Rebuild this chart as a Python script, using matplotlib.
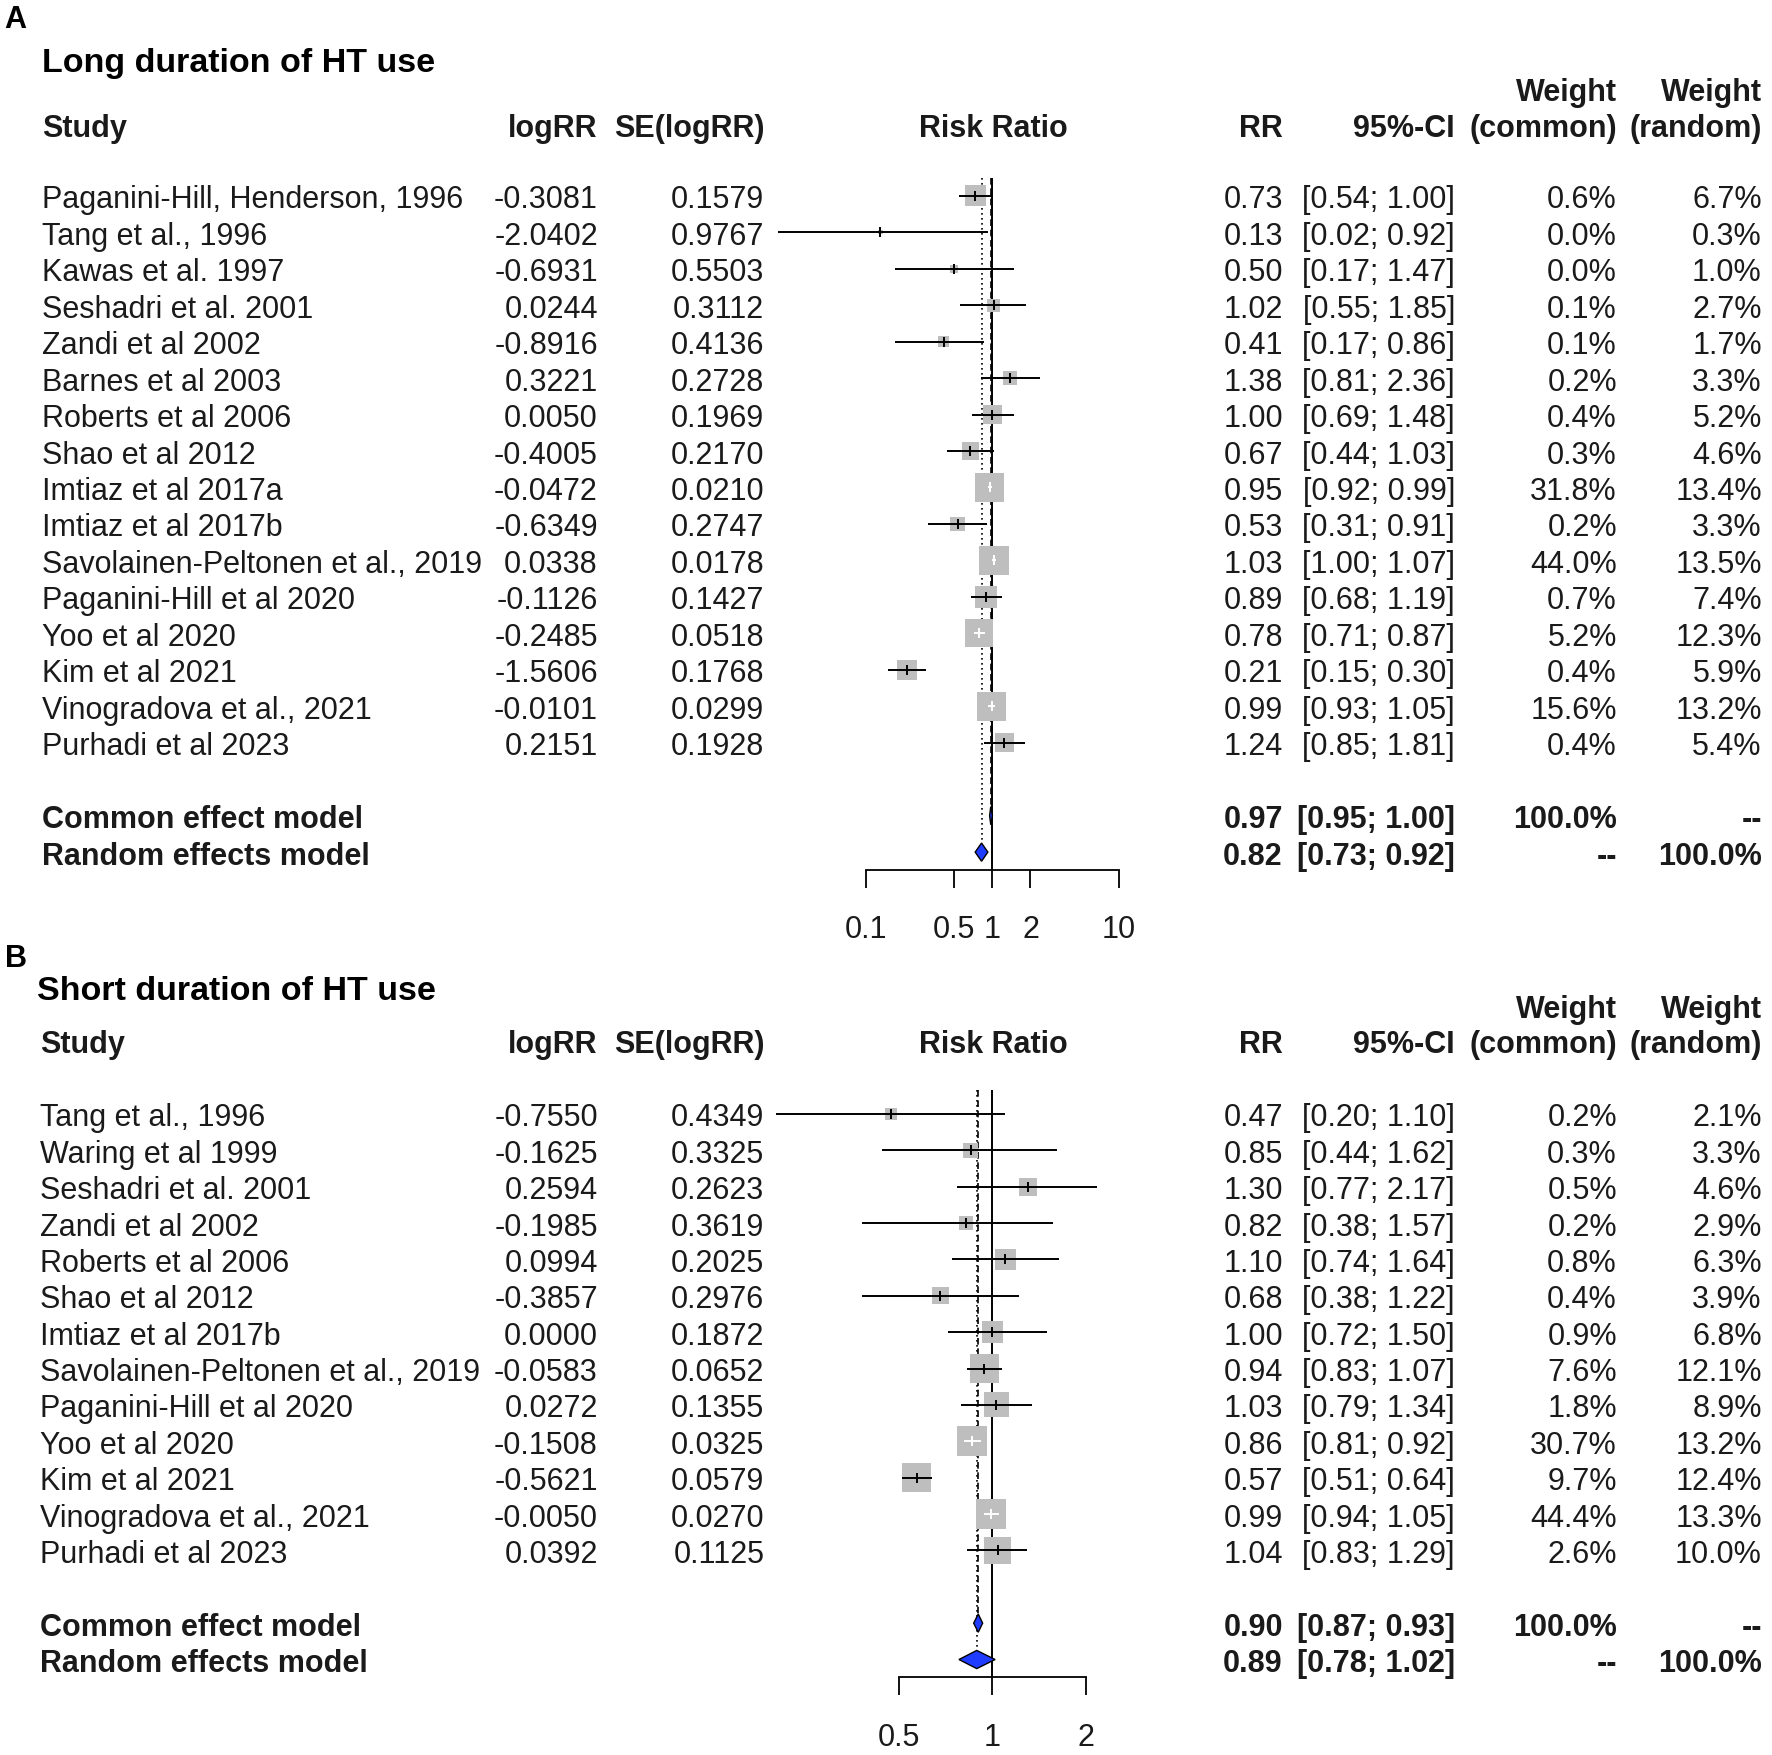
import numpy as np
import matplotlib
matplotlib.use("Agg")
import matplotlib.pyplot as plt

plt.rcParams['font.family'] = ['Liberation Sans', 'DejaVu Sans']

# ---------------- data: panel A (long duration) ----------------
names_A = ["Paganini-Hill, Henderson, 1996", "Tang et al., 1996", "Kawas et al. 1997",
           "Seshadri et al. 2001", "Zandi et al 2002", "Barnes et al 2003",
           "Roberts et al 2006", "Shao et al 2012", "Imtiaz et al 2017a",
           "Imtiaz et al 2017b", "Savolainen-Peltonen et al., 2019",
           "Paganini-Hill et al 2020", "Yoo et al 2020", "Kim et al 2021",
           "Vinogradova et al., 2021", "Purhadi et al 2023"]
logrr_A = [-0.3081, -2.0402, -0.6931, 0.0244, -0.8916, 0.3221, 0.0050, -0.4005,
           -0.0472, -0.6349, 0.0338, -0.1126, -0.2485, -1.5606, -0.0101, 0.2151]
se_A = [0.1579, 0.9767, 0.5503, 0.3112, 0.4136, 0.2728, 0.1969, 0.2170,
        0.0210, 0.2747, 0.0178, 0.1427, 0.0518, 0.1768, 0.0299, 0.1928]
rr_A = [0.73, 0.13, 0.50, 1.02, 0.41, 1.38, 1.00, 0.67, 0.95, 0.53, 1.03, 0.89,
        0.78, 0.21, 0.99, 1.24]
lo_A = [0.54, 0.02, 0.17, 0.55, 0.17, 0.81, 0.69, 0.44, 0.92, 0.31, 1.00, 0.68,
        0.71, 0.15, 0.93, 0.85]
hi_A = [1.00, 0.92, 1.47, 1.85, 0.86, 2.36, 1.48, 1.03, 0.99, 0.91, 1.07, 1.19,
        0.87, 0.30, 1.05, 1.81]
wc_A = [0.6, 0.0, 0.0, 0.1, 0.1, 0.2, 0.4, 0.3, 31.8, 0.2, 44.0, 0.7, 5.2, 0.4, 15.6, 0.4]
wr_A = [6.7, 0.3, 1.0, 2.7, 1.7, 3.3, 5.2, 4.6, 13.4, 3.3, 13.5, 7.4, 12.3, 5.9, 13.2, 5.4]
common_A = (0.97, 0.95, 1.00)
random_A = (0.82, 0.73, 0.92)
ticks_A = [0.1, 0.5, 1, 2, 10]
ticklabels_A = ["0.1", "0.5", "1", "2", "10"]

# ---------------- data: panel B (short duration) ----------------
names_B = ["Tang et al., 1996", "Waring et al 1999", "Seshadri et al. 2001",
           "Zandi et al 2002", "Roberts et al 2006", "Shao et al 2012",
           "Imtiaz et al 2017b", "Savolainen-Peltonen et al., 2019",
           "Paganini-Hill et al 2020", "Yoo et al 2020", "Kim et al 2021",
           "Vinogradova et al., 2021", "Purhadi et al 2023"]
logrr_B = [-0.7550, -0.1625, 0.2594, -0.1985, 0.0994, -0.3857, 0.0000, -0.0583,
           0.0272, -0.1508, -0.5621, -0.0050, 0.0392]
se_B = [0.4349, 0.3325, 0.2623, 0.3619, 0.2025, 0.2976, 0.1872, 0.0652, 0.1355,
        0.0325, 0.0579, 0.0270, 0.1125]
rr_B = [0.47, 0.85, 1.30, 0.82, 1.10, 0.68, 1.00, 0.94, 1.03, 0.86, 0.57, 0.99, 1.04]
lo_B = [0.20, 0.44, 0.77, 0.38, 0.74, 0.38, 0.72, 0.83, 0.79, 0.81, 0.51, 0.94, 0.83]
hi_B = [1.10, 1.62, 2.17, 1.57, 1.64, 1.22, 1.50, 1.07, 1.34, 0.92, 0.64, 1.05, 1.29]
wc_B = [0.2, 0.3, 0.5, 0.2, 0.8, 0.4, 0.9, 7.6, 1.8, 30.7, 9.7, 44.4, 2.6]
wr_B = [2.1, 3.3, 4.6, 2.9, 6.3, 3.9, 6.8, 12.1, 8.9, 13.2, 12.4, 13.3, 10.0]
common_B = (0.90, 0.87, 0.93)
random_B = (0.89, 0.78, 1.02)
ticks_B = [0.5, 1, 2]
ticklabels_B = ["0.5", "1", "2"]

# ---------------- layout ----------------
W, H = 1565.0, 1553.0
DPI = 100
fig = plt.figure(figsize=(17.72, 17.56), dpi=DPI)
fig.patch.set_facecolor("white")
tax = fig.add_axes([0, 0, 1, 1])
tax.set_xlim(0, W)
tax.set_ylim(H, 0)
tax.axis("off")

FS = 22
TXT = "#1a1a1a"
SQ = "#BEBEBE"
DIA = "#1f3cff"

X_LOG = 528
X_SE = 675
X_RR = 1133
X_CI = 1285
X_WC = 1428
X_WR = 1556
X_CENTER = 876.5


def panel(letter, title, names, logrr, se, rr, lo, hi, wc, wr, com, ran,
          ticks, ticklabels, y_letter, y_title, y_w1, y_head, row0, step,
          x_name, x_title, dec_px, line_top_row, side_max_pt):
    n = len(names)
    ypos = lambda r: row0 + step * r
    tax.text(4, y_letter, letter, fontsize=FS, fontweight="bold", color="black",
             ha="left", va="center_baseline")
    tax.text(x_title, y_title, title, fontsize=24.5, fontweight="bold",
             color="black", ha="left", va="center_baseline")
    # headers
    hk = dict(fontsize=FS, fontweight="bold", color=TXT, va="center_baseline")
    tax.text(x_name, y_head, "Study", ha="left", **hk)
    tax.text(X_LOG, y_head, "logRR", ha="right", **hk)
    tax.text(X_SE, y_head, "SE(logRR)", ha="right", **hk)
    tax.text(X_CENTER + 1, y_head, "Risk Ratio", ha="center", **hk)
    tax.text(X_RR, y_head, "RR", ha="right", **hk)
    tax.text(X_CI, y_head, "95%-CI", ha="right", **hk)
    tax.text(X_WC, y_w1, "Weight", ha="right", **hk)
    tax.text(X_WC, y_head, "(common)", ha="right", **hk)
    tax.text(X_WR, y_w1, "Weight", ha="right", **hk)
    tax.text(X_WR, y_head, "(random)", ha="right", **hk)
    # study rows
    rk = dict(fontsize=FS, color=TXT, va="center_baseline")
    for i in range(n):
        y = ypos(i)
        tax.text(x_name, y, names[i], ha="left", **rk)
        tax.text(X_LOG, y, f"{logrr[i]:.4f}", ha="right", **rk)
        tax.text(X_SE, y, f"{se[i]:.4f}", ha="right", **rk)
        tax.text(X_RR, y, f"{rr[i]:.2f}", ha="right", **rk)
        tax.text(X_CI, y, f"[{lo[i]:.2f}; {hi[i]:.2f}]", ha="right", **rk)
        tax.text(X_WC, y, f"{wc[i]:.1f}%", ha="right", **rk)
        tax.text(X_WR, y, f"{wr[i]:.1f}%", ha="right", **rk)
    # summary rows
    r_com, r_ran = n + 1, n + 2
    bk = dict(fontsize=FS, fontweight="bold", color=TXT, va="center_baseline")
    for r, lab, est, wtc, wtr in [(r_com, "Common effect model", com, "100.0%", "--"),
                                  (r_ran, "Random effects model", ran, "--", "100.0%")]:
        y = ypos(r)
        tax.text(x_name, y, lab, ha="left", **bk)
        tax.text(X_RR, y, f"{est[0]:.2f}", ha="right", **bk)
        tax.text(X_CI, y, f"[{est[1]:.2f}; {est[2]:.2f}]", ha="right", **bk)
        tax.text(X_WC, y, wtc, ha="right", **bk)
        tax.text(X_WR, y, wtr, ha="right", **bk)

    # forest axes
    x0, x1 = 680.0, 1000.0
    y_spine = ypos(r_ran + 0.48)
    y_top = ypos(line_top_row)
    ax = fig.add_axes([x0 / W, 1 - y_spine / H, (x1 - x0) / W, (y_spine - y_top) / H])
    ax.set_xscale("log")
    ax.set_xlim(10 ** ((x0 - X_CENTER) / dec_px), 10 ** ((x1 - X_CENTER) / dec_px))
    ax.set_ylim(r_ran + 0.48, line_top_row)
    ax.patch.set_alpha(0)
    for s in ("top", "right", "left"):
        ax.spines[s].set_visible(False)
    ax.spines["bottom"].set_bounds(ticks[0], ticks[-1])
    ax.spines["bottom"].set_linewidth(1.3)
    ax.set_xticks(ticks)
    ax.set_xticklabels(ticklabels)
    ax.xaxis.set_minor_locator(matplotlib.ticker.NullLocator())
    ax.tick_params(axis="x", length=13.3, width=1.3, direction="out", pad=19,
                   labelsize=FS, labelcolor=TXT)
    ax.set_yticks([])

    rows = np.arange(n)
    wr_arr = np.asarray(wr, float)
    side_pt = side_max_pt * np.sqrt(wr_arr / wr_arr.max())
    ax.scatter(rr, rows, s=side_pt ** 2, marker="s", color=SQ, linewidths=0,
               zorder=2, clip_on=False)

    # reference line at 1
    ax.axvline(1, color="black", lw=1.4, zorder=1)
    hh = 0.25
    ax.plot([com[0], com[0]], [line_top_row, r_com - hh], color="black", lw=1.2,
            linestyle=(0, (4, 2.2)), zorder=1)
    ax.plot([ran[0], ran[0]], [line_top_row, r_ran - hh], color="black", lw=1.2,
            linestyle=(0, (1, 2)), zorder=1)

    # CI lines (white if inside square)
    fig.canvas.draw()
    for i in range(n):
        px_lo, px_rr, px_hi = ax.transData.transform(
            [(lo[i], i), (rr[i], i), (hi[i], i)])[:, 0]
        half = side_pt[i] * DPI / 72.0 / 2.0
        inside = (px_rr - px_lo) <= half and (px_hi - px_rr) <= half
        col = "white" if inside else "black"
        ax.plot([lo[i], hi[i]], [i, i], color=col, lw=1.4, zorder=3,
                solid_capstyle="butt", clip_on=False)
        ax.plot([rr[i]], [i], marker="|", ms=6.5, mew=1.4, color=col, zorder=4,
                clip_on=False)

    # diamonds
    for r, est in [(r_com, com), (r_ran, ran)]:
        ax.fill([est[1], est[0], est[2], est[0]], [r, r - hh, r, r + hh],
                facecolor=DIA, edgecolor="black", lw=1.0, zorder=5)
    return ax


panel("A", "Long duration of HT use", names_A, logrr_A, se_A, rr_A, lo_A, hi_A,
      wc_A, wr_A, common_A, random_A, ticks_A, ticklabels_A,
      y_letter=15, y_title=53, y_w1=79, y_head=111, row0=174.0, step=32.25,
      x_name=37, x_title=37, dec_px=111.6, line_top_row=-0.48, side_max_pt=21.2)

panel("B", "Short duration of HT use", names_B, logrr_B, se_B, rr_B, lo_B, hi_B,
      wc_B, wr_B, common_B, random_B, ticks_B, ticklabels_B,
      y_letter=845, y_title=874, y_w1=890, y_head=921, row0=986.0, step=32.17,
      x_name=35, x_title=33, dec_px=273.9, line_top_row=-0.65, side_max_pt=22.0)

fig.savefig("out.png", dpi=DPI, facecolor="white")
